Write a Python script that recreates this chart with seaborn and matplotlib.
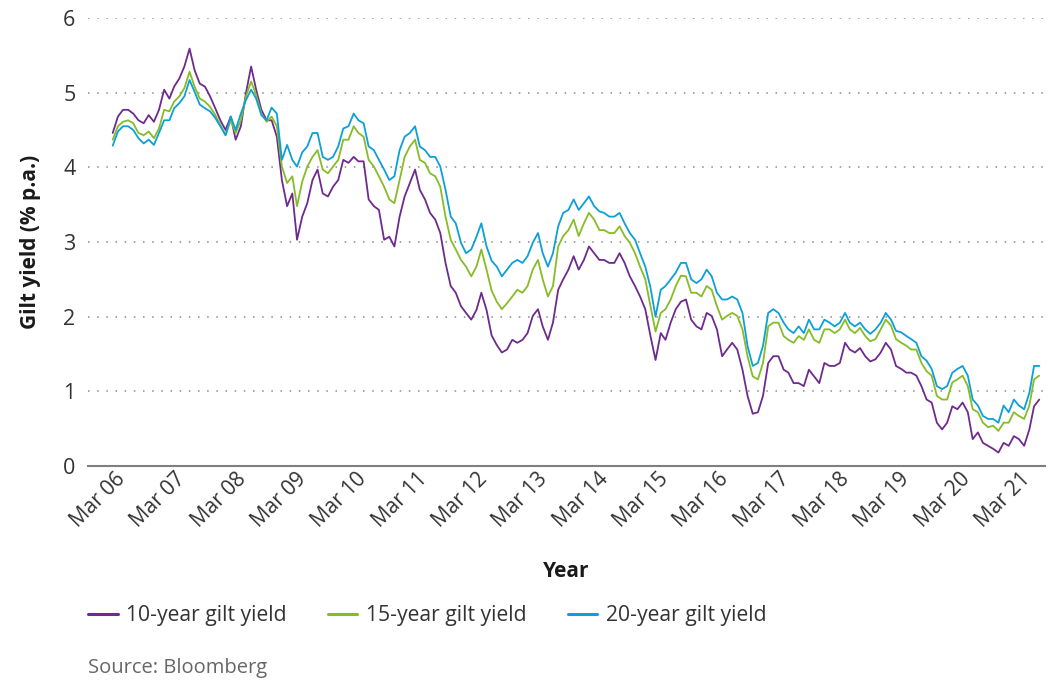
import pandas as pd
import numpy as np
import matplotlib
matplotlib.use('Agg')
import matplotlib.pyplot as plt
import seaborn as sns

# monthly readings, Mar 2006 .. Apr 2021
start_month = '2006-03-01'

yield_10y = [
    4.46, 4.68, 4.77, 4.77, 4.72, 4.63, 4.59, 4.70, 4.61, 4.77, 5.04, 4.92,
    5.08, 5.19, 5.35, 5.59, 5.30, 5.12, 5.08, 4.95, 4.79, 4.63, 4.50, 4.68,
    4.37, 4.55, 4.99, 5.35, 5.04, 4.77, 4.63, 4.63, 4.41, 3.83, 3.48, 3.65,
    3.03, 3.34, 3.52, 3.83, 3.97, 3.65, 3.61, 3.74, 3.83, 4.10, 4.06, 4.14,
    4.08, 4.08, 3.57, 3.48, 3.43, 3.03, 3.07, 2.94, 3.34, 3.61, 3.79, 3.97,
    3.70, 3.57, 3.39, 3.30, 3.12, 2.72, 2.41, 2.32, 2.14, 2.05, 1.96, 2.09,
    2.32, 2.09, 1.75, 1.62, 1.52, 1.56, 1.69, 1.65, 1.69, 1.78, 2.01, 2.10,
    1.87, 1.69, 1.92, 2.36, 2.50, 2.63, 2.81, 2.63, 2.76, 2.94, 2.85, 2.76,
    2.76, 2.72, 2.72, 2.85, 2.72, 2.54, 2.41, 2.27, 2.10, 1.75, 1.42, 1.78,
    1.69, 1.92, 2.10, 2.20, 2.23, 1.96, 1.87, 1.83, 2.05, 2.01, 1.83, 1.47,
    1.56, 1.65, 1.56, 1.29, 0.94, 0.70, 0.72, 0.94, 1.38, 1.47, 1.47, 1.29,
    1.25, 1.11, 1.11, 1.07, 1.29, 1.20, 1.11, 1.38, 1.34, 1.34, 1.38, 1.65,
    1.56, 1.52, 1.58, 1.47, 1.40, 1.43, 1.52, 1.65, 1.56, 1.34, 1.30, 1.25,
    1.25, 1.21, 1.07, 0.89, 0.85, 0.58, 0.49, 0.58, 0.80, 0.76, 0.85, 0.72,
    0.36, 0.45, 0.31, 0.27, 0.23, 0.18, 0.31, 0.27, 0.40, 0.36, 0.27, 0.49,
    0.80, 0.89,
]

yield_15y = [
    4.37, 4.55, 4.61, 4.63, 4.59, 4.46, 4.43, 4.48, 4.39, 4.52, 4.77, 4.75,
    4.88, 4.95, 5.06, 5.28, 5.08, 4.92, 4.88, 4.81, 4.70, 4.57, 4.43, 4.63,
    4.46, 4.63, 4.95, 5.15, 4.97, 4.72, 4.61, 4.68, 4.55, 4.01, 3.79, 3.88,
    3.48, 3.81, 4.01, 4.14, 4.23, 3.97, 3.92, 4.01, 4.10, 4.37, 4.37, 4.55,
    4.46, 4.41, 4.10, 4.01, 3.88, 3.74, 3.57, 3.52, 3.83, 4.14, 4.28, 4.37,
    4.10, 4.06, 3.92, 3.88, 3.74, 3.34, 3.03, 2.90, 2.76, 2.67, 2.54, 2.67,
    2.90, 2.63, 2.35, 2.20, 2.10, 2.18, 2.27, 2.36, 2.32, 2.41, 2.63, 2.76,
    2.50, 2.27, 2.41, 2.94, 3.08, 3.16, 3.30, 3.08, 3.25, 3.39, 3.30, 3.16,
    3.16, 3.12, 3.12, 3.21, 3.08, 2.99, 2.85, 2.67, 2.50, 2.15, 1.80, 2.05,
    2.10, 2.23, 2.41, 2.55, 2.54, 2.32, 2.32, 2.27, 2.41, 2.36, 2.14, 1.96,
    2.01, 2.05, 2.01, 1.83, 1.47, 1.20, 1.16, 1.38, 1.87, 1.92, 1.92, 1.74,
    1.69, 1.65, 1.74, 1.69, 1.83, 1.69, 1.65, 1.83, 1.83, 1.78, 1.83, 1.96,
    1.83, 1.78, 1.85, 1.74, 1.67, 1.70, 1.83, 1.96, 1.88, 1.70, 1.65, 1.61,
    1.56, 1.56, 1.38, 1.27, 1.21, 0.94, 0.89, 0.89, 1.12, 1.16, 1.21, 1.07,
    0.76, 0.72, 0.58, 0.52, 0.54, 0.47, 0.58, 0.58, 0.72, 0.67, 0.63, 0.81,
    1.16, 1.21,
]

yield_20y = [
    4.29, 4.48, 4.55, 4.55, 4.50, 4.39, 4.32, 4.37, 4.30, 4.46, 4.63, 4.63,
    4.79, 4.86, 4.95, 5.17, 5.01, 4.84, 4.79, 4.75, 4.66, 4.55, 4.43, 4.68,
    4.50, 4.72, 4.90, 5.04, 4.92, 4.70, 4.63, 4.80, 4.72, 4.10, 4.30, 4.10,
    4.01, 4.20, 4.28, 4.46, 4.46, 4.14, 4.10, 4.14, 4.28, 4.52, 4.55, 4.72,
    4.63, 4.59, 4.28, 4.23, 4.10, 3.97, 3.83, 3.88, 4.23, 4.41, 4.46, 4.55,
    4.28, 4.23, 4.14, 4.14, 4.01, 3.70, 3.34, 3.25, 2.99, 2.85, 2.90, 3.07,
    3.25, 2.94, 2.75, 2.67, 2.54, 2.63, 2.72, 2.76, 2.72, 2.81, 2.99, 3.12,
    2.85, 2.67, 2.85, 3.21, 3.39, 3.43, 3.57, 3.43, 3.52, 3.61, 3.48, 3.41,
    3.39, 3.34, 3.34, 3.39, 3.25, 3.12, 3.03, 2.85, 2.67, 2.40, 2.00, 2.36,
    2.41, 2.50, 2.59, 2.72, 2.72, 2.50, 2.45, 2.50, 2.63, 2.54, 2.32, 2.23,
    2.23, 2.27, 2.23, 2.05, 1.61, 1.34, 1.38, 1.61, 2.05, 2.10, 2.05, 1.92,
    1.83, 1.78, 1.87, 1.78, 1.96, 1.83, 1.83, 1.96, 1.92, 1.87, 1.92, 2.05,
    1.92, 1.87, 1.92, 1.83, 1.77, 1.83, 1.92, 2.05, 1.96, 1.81, 1.79, 1.74,
    1.70, 1.65, 1.47, 1.41, 1.30, 1.07, 1.03, 1.07, 1.25, 1.30, 1.34, 1.21,
    0.89, 0.81, 0.67, 0.63, 0.63, 0.58, 0.81, 0.72, 0.89, 0.81, 0.76, 0.98,
    1.34, 1.34,
]

series_names = ['10-year gilt yield', '15-year gilt yield', '20-year gilt yield']
series_colors = ['#6E2A8C', '#86BC25', '#0C9FD8']
tick_labels = ['Mar %02d' % y for y in range(6, 22)]

dates = pd.date_range(start_month, periods=len(yield_10y), freq='MS')
_df = pd.concat([
    pd.DataFrame({'date': dates, 'value': vals, 'series': name})
    for name, vals in zip(series_names, [yield_10y, yield_15y, yield_20y])
])

sns.set_style('white')
plt.rcParams['font.family'] = ['Open Sans', 'DejaVu Sans']

fig = plt.figure(figsize=(10.51, 6.84), dpi=100)
ax = fig.add_axes([88 / 1051, 1 - 466 / 684, (1045 - 88) / 1051, (466 - 18) / 684])

sns.lineplot(data=_df, x='date', y='value', hue='series', palette=series_colors,
             hue_order=series_names, linewidth=1.3, ax=ax)

ax.set_ylim(0, 6)
ax.set_xlim(pd.Timestamp('2005-10-05'), pd.Timestamp('2021-05-05'))
ax.set_yticks(range(0, 7))
ax.grid(axis='y', linestyle=(0, (1, 5)), color='#8a8a8a', linewidth=1.1)
ax.grid(axis='x', visible=False)
for s in ['left', 'right', 'top']:
    ax.spines[s].set_visible(False)
ax.spines['bottom'].set_color('#7f7f7f')
ax.spines['bottom'].set_linewidth(1.5)

# label positions spaced to match the reference
t0 = pd.Timestamp('2006-06-10').value
t1 = pd.Timestamp('2021-03-05').value
tick_pos = pd.to_datetime(np.linspace(t0, t1, len(tick_labels)))
ax.set_xticks(tick_pos)
ax.set_xticklabels(tick_labels, rotation=45, ha='right', fontsize=15, color='#333333')
ax.tick_params(axis='y', labelsize=15.5, colors='#333333', length=0, pad=9)
ax.tick_params(axis='x', length=0, pad=2)

ax.set_xlabel('Year', fontsize=15, fontweight='bold', color='#1a1a1a', labelpad=21)
ax.set_ylabel('Gilt yield (% p.a.)', fontsize=15, fontweight='bold', color='#1a1a1a', labelpad=16)

handles, labels = ax.get_legend_handles_labels()
ax.get_legend().remove()
fig.legend(handles, labels, loc='center left', bbox_to_anchor=(69 / 1051, 1 - 616 / 684),
           ncol=3, frameon=False, fontsize=15.2, handlelength=1.4, handletextpad=0.4,
           columnspacing=1.95, labelcolor='#333333')
for h in fig.legends[0].legend_handles:
    h.set_linewidth(2.2)

fig.text(88 / 1051, 1 - 668 / 684, 'Source: Bloomberg', fontsize=14.5, color='#666666',
         va='center', ha='left')

fig.savefig('out.png', dpi=100)
